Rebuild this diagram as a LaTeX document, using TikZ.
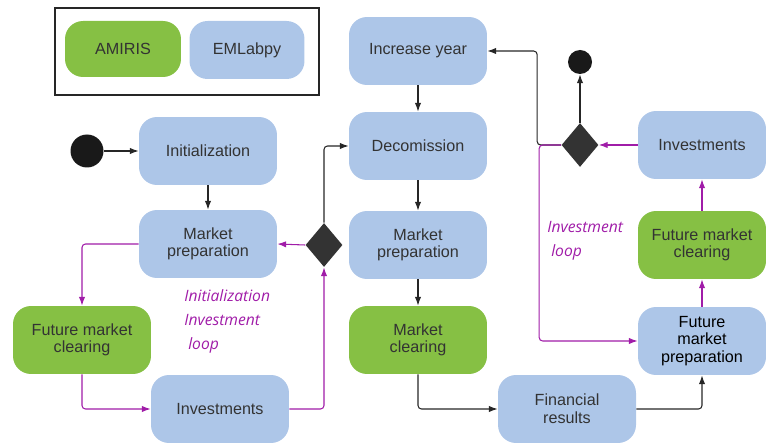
\documentclass[tikz,border=0pt]{standalone}
\usepackage{fontspec}
\setmainfont{Liberation Sans}
\newfontfamily\loopfont{Open Sans}
\usetikzlibrary{shapes.geometric,arrows.meta}
\definecolor{emlabblue}{HTML}{ADC6E8}
\definecolor{amirisgreen}{HTML}{86C044}
\definecolor{looppurple}{HTML}{A01CA8}
\definecolor{boxtext}{HTML}{333333}
\begin{document}
\begin{tikzpicture}[x=0.02cm,y=-0.02cm,
  box/.style={rectangle,rounded corners=0.36cm,minimum width=2.76cm,minimum height=1.36cm,
    align=center,text=boxtext,font=\fontsize{9.2}{10}\selectfont,inner sep=1pt},
  emlab/.style={box,fill=emlabblue},
  amiris/.style={box,fill=amirisgreen},
  decision/.style={diamond,aspect=0.84,minimum width=0.74cm,minimum height=0.88cm,inner sep=0pt,fill=black!80},
  startdot/.style={circle,fill=black!90,minimum size=0.66cm,inner sep=0pt},
  enddot/.style={circle,fill=black!90,minimum size=0.48cm,inner sep=0pt},
  flow/.style={line width=0.6pt,black!85,rounded corners=2pt,-{Latex[length=5pt,width=3.6pt]}},
  loopflow/.style={flow,looppurple},
  looptext/.style={text=looppurple,font=\loopfont\itshape\fontsize{8.9}{13.6}\selectfont,align=left,anchor=north west,inner sep=0pt}]
  \useasboundingbox (0,0) rectangle (766,445);
  \clip (0,0) rectangle (766,445);
  % legend
  \draw[line width=1.2pt,black!85] (55,8) rectangle (319,95);
  \node[amiris,minimum width=2.32cm,minimum height=1.12cm] (legamiris) at (123,49) {AMIRIS};
  \node[emlab,minimum width=2.3cm,minimum height=1.16cm] (legemlab) at (247,50) {EMLabpy};
  % initialization loop
  \node[startdot] (start) at (87,151) {};
  \node[emlab] (init) at (208,151) {Initialization};
  \node[emlab] (prepA) at (208,244) {Market\\preparation};
  \node[amiris] (futclearA) at (82,340) {Future market\\clearing};
  \node[emlab] (investA) at (220,409) {Investments};
  \node[decision] (decA) at (324,245) {};
  \node[looptext] (labelA) at (184,289) {Initialization\\Investment\\\hspace{0.25em}loop};
  % yearly steps
  \node[emlab] (year) at (418,51) {Increase year};
  \node[emlab] (decom) at (418,146) {Decomission};
  \node[emlab] (prepB) at (418,245) {Market\\preparation};
  \node[amiris] (clear) at (418,340) {Market\\clearing};
  \node[emlab] (finance) at (567,409) {Financial\\results};
  % investment loop
  \node[emlab,text=black,minimum width=2.56cm] (futprep) at (702,341) {Future\\market\\preparation};
  \node[amiris,minimum width=2.56cm] (futclearB) at (702,245) {Future market\\clearing};
  \node[emlab,minimum width=2.56cm] (investB) at (702,145) {Investments};
  \node[decision] (decB) at (580,145) {};
  \node[enddot] (stop) at (580,62) {};
  \node[looptext] (labelB) at (547,221) {Investment\\\hspace{0.25em}loop};
  % black connectors
  \draw[flow] (start) -- (init);
  \draw[flow] (init) -- (prepA);
  \draw[flow] (decA.north) |- (decom.west);
  \draw[flow] (year) -- (decom);
  \draw[flow] (decom) -- (prepB);
  \draw[flow] (prepB) -- (clear);
  \draw[flow] (clear.south) |- (finance.west);
  \draw[flow] (finance.east) -| (futprep.south);
  \draw[flow] (decB.north) -- (stop);
  \draw[flow] (decB.west) -- ++(-24,0) |- (year.east);
  % purple connectors
  \draw[loopflow] (decA.west) -- (prepA.east);
  \draw[loopflow] (prepA.west) -| (futclearA.north);
  \draw[loopflow] (futclearA.south) |- (investA.west);
  \draw[loopflow] (investA.east) -| (decA.south);
  \draw[loopflow] (futprep) -- (futclearB);
  \draw[loopflow] (futclearB) -- (investB);
  \draw[loopflow] (investB) -- (decB);
  \draw[loopflow] (decB.west) -- ++(-22,0) |- (futprep.west);
\end{tikzpicture}
\end{document}
